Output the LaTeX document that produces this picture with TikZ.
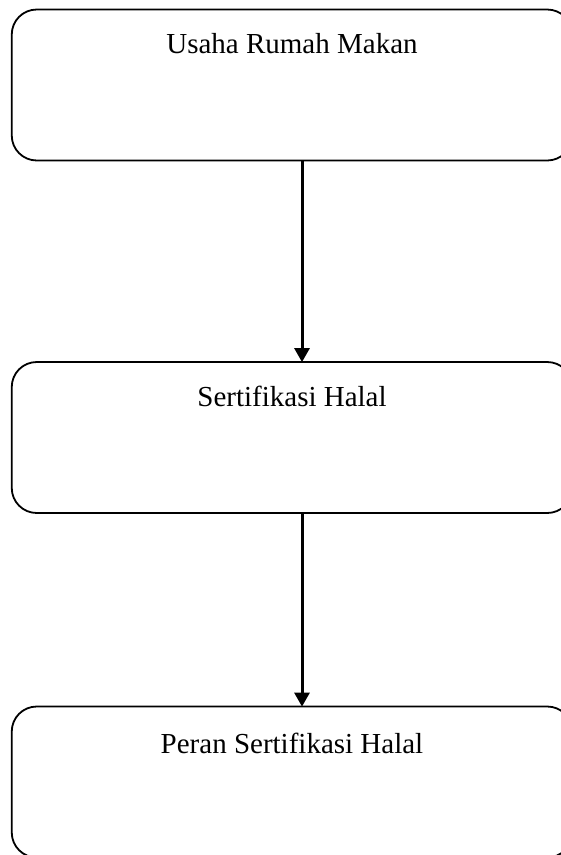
\documentclass[tikz,border=0pt]{standalone}
\usepackage{fontspec}
\setmainfont{Liberation Serif}
\usetikzlibrary{arrows.meta}
\begin{document}
\begin{tikzpicture}[x=1pt,y=1pt,
  stepbox/.style={draw, line width=1.8pt, rounded corners=25pt, minimum width=560.5pt, minimum height=151pt, inner sep=0pt},
  boxtext/.style={anchor=base, font=\fontsize{29}{34}\selectfont, inner sep=0pt},
  arr/.style={line width=3pt, -{Triangle[width=15pt,length=14pt]}, shorten >=-1pt}]
\useasboundingbox (0,0) rectangle (561,-855);
\clip (0,0) rectangle (561,-855);
\node[stepbox, label={[boxtext, yshift=-45pt]north:Usaha Rumah Makan}] (b1) at (292,-85) {};
\node[stepbox, label={[boxtext, yshift=-45pt]north:Sertifikasi Halal}] (b2) at (292,-437.5) {};
\node[stepbox, label={[boxtext, yshift=-48pt]north:Peran Sertifikasi Halal}] (b3) at (292,-782) {};
\draw[arr] ([xshift=10pt]b1.south) -- ([xshift=10pt]b2.north);
\draw[arr] ([xshift=10pt]b2.south) -- ([xshift=10pt]b3.north);
\end{tikzpicture}
\end{document}
